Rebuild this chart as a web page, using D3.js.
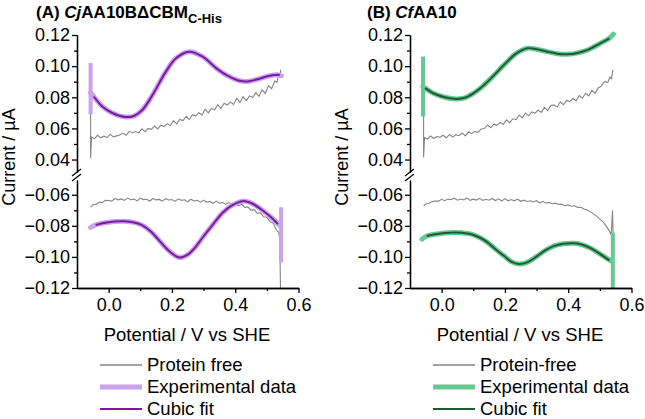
<!DOCTYPE html>
<html>
<head>
<meta charset="utf-8">
<script src="https://cdn.jsdelivr.net/npm/d3@7"></script>
<style>
  body { margin: 0; background: #fff; }
  text { font-family: "Liberation Sans", Arial, sans-serif; }
</style>
</head>
<body>
<div id="chart"></div>
<script>
// ---- data (potential V vs SHE, current uA) ----

// panel A: CjAA10B dCBM C-His
const greyTopA = [[-0.057,0.070],[-0.057,0.041],[-0.054,0.0545],[-0.045,0.0533],[-0.035,0.0556],[-0.025,0.0540],[-0.015,0.0550],[-0.005,0.0541],
  [0.005,0.0563],[0.015,0.0546],[0.025,0.0552],[0.035,0.0558],[0.045,0.0570],[0.055,0.0556],[0.065,0.0581],[0.075,0.0571],[0.085,0.0580],
  [0.095,0.0572],[0.105,0.0598],[0.115,0.0579],[0.125,0.0600],[0.135,0.0594],[0.145,0.0615],[0.155,0.0597],[0.165,0.0621],[0.175,0.0612],
  [0.185,0.0631],[0.195,0.0618],[0.205,0.0650],[0.215,0.0629],[0.225,0.0658],[0.235,0.0650],[0.245,0.0677],[0.255,0.0656],[0.265,0.0688],
  [0.275,0.0679],[0.285,0.0701],[0.295,0.0686],[0.305,0.0723],[0.315,0.0700],[0.325,0.0728],[0.335,0.0720],[0.345,0.0752],[0.355,0.0727],
  [0.365,0.0762],[0.375,0.0750],[0.385,0.0770],[0.395,0.0754],[0.405,0.0794],[0.415,0.0767],[0.425,0.0803],[0.435,0.0779],[0.445,0.0809],
  [0.455,0.0798],[0.465,0.0830],[0.475,0.0806],[0.485,0.0848],[0.495,0.0825],[0.505,0.0875],[0.515,0.0855],[0.525,0.0904],[0.532,0.0896],
  [0.538,0.0955],[0.541,0.0925],[0.544,0.0978]];
const greyBotA = [[-0.057,-0.0680],[-0.050,-0.0664],[-0.040,-0.0662],[-0.030,-0.0648],[-0.020,-0.0649],[-0.010,-0.0636],[0.000,-0.0637],
  [0.010,-0.0641],[0.020,-0.0624],[0.030,-0.0633],[0.040,-0.0627],[0.050,-0.0636],[0.060,-0.0621],[0.070,-0.0632],[0.080,-0.0628],
  [0.090,-0.0639],[0.100,-0.0622],[0.110,-0.0631],[0.120,-0.0629],[0.130,-0.0640],[0.140,-0.0624],[0.150,-0.0633],[0.160,-0.0630],
  [0.170,-0.0641],[0.180,-0.0625],[0.190,-0.0634],[0.200,-0.0631],[0.210,-0.0643],[0.220,-0.0626],[0.230,-0.0636],[0.240,-0.0632],
  [0.250,-0.0645],[0.260,-0.0629],[0.270,-0.0640],[0.280,-0.0636],[0.290,-0.0648],[0.300,-0.0634],[0.310,-0.0647],[0.320,-0.0643],
  [0.330,-0.0656],[0.340,-0.0641],[0.350,-0.0654],[0.360,-0.0650],[0.370,-0.0662],[0.380,-0.0649],[0.390,-0.0667],[0.400,-0.0653],
  [0.410,-0.0672],[0.420,-0.0661],[0.430,-0.0681],[0.440,-0.0678],[0.450,-0.0700],[0.460,-0.0696],[0.470,-0.0720],[0.480,-0.0716],
  [0.490,-0.0742],[0.500,-0.0745],[0.510,-0.0772],[0.520,-0.0782],[0.530,-0.0826],[0.537,-0.0841],[0.541,-0.0884],[0.543,-0.1200]];
const expTopA = [[-0.057,0.083],[-0.047,0.0805],[-0.02,0.0741],[0.012,0.0699],[0.054,0.0673],[0.08,0.0680],[0.107,0.0720],[0.139,0.0816],
  [0.181,0.0965],[0.213,0.1051],[0.255,0.1093],[0.297,0.1061],[0.340,0.0987],[0.371,0.0944],[0.414,0.0906],[0.44,0.0902],[0.467,0.0914],
  [0.509,0.0938],[0.530,0.0944],[0.546,0.0938]];
const spikeTopA = [-0.057, 0.069, 0.102];
const fitTopA = [[-0.047,0.0805],[-0.02,0.0741],[0.012,0.0699],[0.054,0.0673],[0.08,0.0680],[0.107,0.0720],[0.139,0.0816],[0.181,0.0965],
  [0.213,0.1051],[0.255,0.1093],[0.297,0.1061],[0.340,0.0987],[0.371,0.0944],[0.414,0.0906],[0.44,0.0902],[0.467,0.0914],[0.509,0.0938],
  [0.541,0.0944]];
const expBotA = [[-0.057,-0.0810],[-0.041,-0.0794],[-0.01,-0.0780],[0.02,-0.0772],[0.05,-0.0771],[0.08,-0.0778],[0.107,-0.0797],
  [0.135,-0.0840],[0.16,-0.0895],[0.19,-0.0960],[0.223,-0.1004],[0.25,-0.0985],[0.275,-0.0935],[0.297,-0.0875],[0.33,-0.0790],
  [0.361,-0.0714],[0.39,-0.0668],[0.424,-0.0641],[0.455,-0.0658],[0.488,-0.0703],[0.515,-0.0748],[0.540,-0.0795]];
const spikeBotA = [0.545, -0.1035, -0.068];
const fitBotA = [[-0.041,-0.0794],[-0.01,-0.0780],[0.02,-0.0772],[0.05,-0.0771],[0.08,-0.0778],[0.107,-0.0797],[0.135,-0.0840],
  [0.16,-0.0895],[0.19,-0.0960],[0.223,-0.1004],[0.25,-0.0985],[0.275,-0.0935],[0.297,-0.0875],[0.33,-0.0790],[0.361,-0.0714],
  [0.39,-0.0668],[0.424,-0.0641],[0.455,-0.0658],[0.488,-0.0703],[0.515,-0.0748],[0.535,-0.0789]];

// panel B: CfAA10
const greyTopB = [[-0.057,0.068],[-0.057,0.0413],[-0.054,0.0541],[-0.045,0.0532],[-0.035,0.0551],[-0.025,0.0535],[-0.015,0.0547],
  [-0.005,0.0543],[0.005,0.0556],[0.015,0.0539],[0.025,0.0561],[0.035,0.0544],[0.045,0.0560],[0.055,0.0553],[0.065,0.0570],[0.075,0.0552],
  [0.085,0.0578],[0.095,0.0566],[0.105,0.0581],[0.115,0.0574],[0.125,0.0596],[0.135,0.0599],[0.145,0.0622],[0.155,0.0605],[0.165,0.0627],
  [0.175,0.0620],[0.185,0.0639],[0.195,0.0625],[0.205,0.0655],[0.215,0.0637],[0.225,0.0662],[0.235,0.0656],[0.245,0.0686],[0.255,0.0668],
  [0.265,0.0699],[0.275,0.0681],[0.285,0.0706],[0.295,0.0698],[0.305,0.0718],[0.315,0.0703],[0.325,0.0735],[0.335,0.0714],[0.345,0.0747],
  [0.355,0.0751],[0.365,0.0737],[0.375,0.0771],[0.385,0.0753],[0.395,0.0780],[0.405,0.0772],[0.415,0.0792],[0.425,0.0777],[0.435,0.0811],
  [0.445,0.0794],[0.455,0.0826],[0.465,0.0809],[0.475,0.0845],[0.485,0.0827],[0.495,0.0860],[0.505,0.0873],[0.515,0.0900],[0.525,0.0896],
  [0.532,0.0930],[0.537,0.0920],[0.541,0.0976]];
const greyBotB = [[-0.057,-0.0672],[-0.050,-0.0660],[-0.040,-0.0654],[-0.030,-0.0644],[-0.020,-0.0640],[-0.010,-0.0641],[0.000,-0.0629],
  [0.010,-0.0638],[0.020,-0.0628],[0.030,-0.0632],[0.040,-0.0622],[0.050,-0.0635],[0.060,-0.0627],[0.070,-0.0633],[0.080,-0.0621],
  [0.090,-0.0636],[0.100,-0.0628],[0.110,-0.0634],[0.120,-0.0623],[0.130,-0.0636],[0.140,-0.0629],[0.150,-0.0635],[0.160,-0.0624],
  [0.170,-0.0637],[0.180,-0.0626],[0.190,-0.0640],[0.200,-0.0625],[0.210,-0.0639],[0.220,-0.0631],[0.230,-0.0639],[0.240,-0.0628],
  [0.250,-0.0642],[0.260,-0.0635],[0.270,-0.0643],[0.280,-0.0639],[0.290,-0.0646],[0.300,-0.0638],[0.310,-0.0653],[0.320,-0.0642],
  [0.330,-0.0654],[0.340,-0.0650],[0.350,-0.0658],[0.360,-0.0654],[0.370,-0.0662],[0.380,-0.0661],[0.390,-0.0670],[0.400,-0.0666],
  [0.410,-0.0674],[0.420,-0.0671],[0.430,-0.0682],[0.440,-0.0681],[0.450,-0.0692],[0.460,-0.0698],[0.470,-0.0710],[0.480,-0.0723],
  [0.490,-0.0737],[0.500,-0.0757],[0.510,-0.0774],[0.520,-0.0802],[0.528,-0.0826],[0.536,-0.0858],[0.540,-0.0700],[0.542,-0.0860]];
const expTopB = [[-0.059,0.087],[-0.052,0.0859],[-0.03,0.0830],[-0.015,0.0816],[0.01,0.0800],[0.038,0.0790],[0.07,0.0795],[0.10,0.0825],
  [0.123,0.0859],[0.16,0.0930],[0.197,0.1008],[0.235,0.1080],[0.271,0.1115],[0.30,0.1108],[0.334,0.1093],[0.365,0.1080],[0.398,0.1076],
  [0.43,0.1085],[0.461,0.1104],[0.50,0.1145],[0.530,0.1179],[0.543,0.1205]];
const spikeTopB = [-0.059, 0.0677, 0.1061];
const fitTopB = [[-0.052,0.0859],[-0.03,0.0830],[-0.015,0.0816],[0.01,0.0800],[0.038,0.0790],[0.07,0.0795],[0.10,0.0825],[0.123,0.0859],
  [0.16,0.0930],[0.197,0.1008],[0.235,0.1080],[0.271,0.1115],[0.30,0.1108],[0.334,0.1093],[0.365,0.1080],[0.398,0.1076],[0.43,0.1085],
  [0.461,0.1104],[0.50,0.1145],[0.530,0.1179]];
const expBotB = [[-0.062,-0.0886],[-0.047,-0.0865],[-0.015,-0.0852],[0.01,-0.0846],[0.038,-0.0843],[0.065,-0.0845],[0.091,-0.0852],
  [0.12,-0.0875],[0.144,-0.0905],[0.17,-0.0950],[0.197,-0.0993],[0.22,-0.1030],[0.244,-0.1046],[0.27,-0.1035],[0.303,-0.0993],
  [0.33,-0.0955],[0.356,-0.0929],[0.385,-0.0915],[0.419,-0.0912],[0.445,-0.0922],[0.472,-0.0945],[0.50,-0.0980],[0.535,-0.1025]];
const spikeBotB = [0.541, -0.1200, -0.0843];
const fitBotB = [[-0.047,-0.0865],[-0.015,-0.0852],[0.01,-0.0846],[0.038,-0.0843],[0.065,-0.0845],[0.091,-0.0852],[0.12,-0.0875],
  [0.144,-0.0905],[0.17,-0.0950],[0.197,-0.0993],[0.22,-0.1030],[0.244,-0.1046],[0.27,-0.1035],[0.303,-0.0993],[0.33,-0.0955],
  [0.356,-0.0929],[0.385,-0.0915],[0.419,-0.0912],[0.445,-0.0922],[0.472,-0.0945],[0.50,-0.0980],[0.530,-0.1022]];

const xMajor = [0.0, 0.2, 0.4, 0.6];
const xMinor = [0.1, 0.3, 0.5];
const yTopMajor = [0.04, 0.06, 0.08, 0.10, 0.12];
const yTopMinor = [0.05, 0.07, 0.09, 0.11];
const yBotMajor = [-0.12, -0.10, -0.08, -0.06];
const yBotMinor = [-0.11, -0.09, -0.07];

// ---- layout ----
let W = 645, H = 419;
let svg = d3.select('#chart').append('svg')
  .attr('width', W).attr('height', H);

function drawPanel(p) {
  let x = d3.scaleLinear().domain([-0.1, 0.6]).range([p.left, p.left + 221.5]);
  let yTop = d3.scaleLinear().domain([0.032, 0.12]).range([172, 35]);
  let yBot = d3.scaleLinear().domain([-0.12, -0.0505]).range([288, 180]);
  let g = svg.append('g');

  let lineTop = d3.line().x(d => x(d[0])).y(d => yTop(d[1]));
  let lineBot = d3.line().x(d => x(d[0])).y(d => yBot(d[1]));
  let smoothTop = d3.line().curve(d3.curveCatmullRom.alpha(0.5)).x(d => x(d[0])).y(d => yTop(d[1]));
  let smoothBot = d3.line().curve(d3.curveCatmullRom.alpha(0.5)).x(d => x(d[0])).y(d => yBot(d[1]));

  // protein free
  g.append('path').attr('d', lineTop(p.greyTop)).attr('fill', 'none').attr('stroke', '#858585').attr('stroke-width', 1.1);
  g.append('path').attr('d', lineBot(p.greyBot)).attr('fill', 'none').attr('stroke', '#858585').attr('stroke-width', 1.1);

  // experimental
  [[p.expTop, smoothTop], [p.expBot, smoothBot]].forEach(([d, fn]) => {
    g.append('path').attr('d', fn(d)).attr('fill', 'none')
      .attr('stroke', p.light).attr('stroke-width', 5).attr('stroke-linecap', 'round');
  });
  g.append('line').attr('x1', x(p.spikeTop[0])).attr('x2', x(p.spikeTop[0]))
    .attr('y1', yTop(p.spikeTop[1])).attr('y2', yTop(p.spikeTop[2]))
    .attr('stroke', p.light).attr('stroke-width', 4);
  g.append('line').attr('x1', x(p.spikeBot[0])).attr('x2', x(p.spikeBot[0]))
    .attr('y1', yBot(p.spikeBot[1])).attr('y2', yBot(p.spikeBot[2]))
    .attr('stroke', p.light).attr('stroke-width', 4);

  // cubic fit
  g.append('path').attr('d', smoothTop(p.fitTop)).attr('fill', 'none').attr('stroke', p.dark).attr('stroke-width', 2);
  g.append('path').attr('d', smoothBot(p.fitBot)).attr('fill', 'none').attr('stroke', p.dark).attr('stroke-width', 2);

  // axes
  let fs = '18px';
  function styleAxis(a) {
    a.selectAll('path, line').attr('stroke', '#000').attr('stroke-width', 1.3);
    a.selectAll('text').attr('fill', '#000').style('font-size', fs)
      .style('font-family', '"Liberation Sans", Arial, sans-serif');
  }
  let ax;
  ax = g.append('g').attr('transform', 'translate(' + p.left + ',0)')
    .call(d3.axisLeft(yTop).tickValues(yTopMajor).tickSize(5).tickSizeOuter(0).tickPadding(2).tickFormat(d3.format('.2f')));
  styleAxis(ax);
  ax = g.append('g').attr('transform', 'translate(' + p.left + ',0)')
    .call(d3.axisLeft(yTop).tickValues(yTopMinor).tickSize(3).tickSizeOuter(0).tickFormat(''));
  styleAxis(ax);
  ax = g.append('g').attr('transform', 'translate(' + p.left + ',0)')
    .call(d3.axisLeft(yBot).tickValues(yBotMajor).tickSize(5).tickSizeOuter(0).tickPadding(2).tickFormat(d3.format('.2f')));
  styleAxis(ax);
  ax = g.append('g').attr('transform', 'translate(' + p.left + ',0)')
    .call(d3.axisLeft(yBot).tickValues(yBotMinor).tickSize(3).tickSizeOuter(0).tickFormat(''));
  styleAxis(ax);
  ax = g.append('g').attr('transform', 'translate(0,288)')
    .call(d3.axisBottom(x).tickValues(xMajor).tickSize(5).tickSizeOuter(0).tickPadding(5).tickFormat(d3.format('.1f')));
  styleAxis(ax);
  ax = g.append('g').attr('transform', 'translate(0,288)')
    .call(d3.axisBottom(x).tickValues(xMinor).tickSize(3).tickSizeOuter(0).tickFormat(''));
  styleAxis(ax);

  // axis break marks
  [0, 5].forEach(o => {
    g.append('line').attr('x1', p.left - 5).attr('y1', 176 + o).attr('x2', p.left + 4).attr('y2', 169 + o)
      .attr('stroke', '#000').attr('stroke-width', 1.2);
  });

  // titles
  let t = g.append('text').attr('x', p.titleX).attr('y', 18).style('font-size', '17px').style('font-weight', 'bold');
  p.title.forEach(s => {
    let ts = t.append('tspan').text(s.t);
    if (s.i) ts.style('font-style', 'italic');
    if (s.sub) ts.attr('dy', 5).style('font-size', '13px');
  });

  g.append('text')
    .attr('transform', 'translate(' + (p.left - 62) + ',157) rotate(-90)')
    .attr('text-anchor', 'middle').style('font-size', '18px')
    .text('Current / µA');

  g.append('text')
    .attr('x', p.left + 110).attr('y', 341)
    .attr('text-anchor', 'middle').style('font-size', '18.5px')
    .text('Potential / V vs SHE');

  // legend
  let leg = [
    {label: p.greyLabel, color: '#858585', w: 1.3},
    {label: 'Experimental data', color: p.light, w: 5},
    {label: 'Cubic fit', color: p.dark, w: 2}
  ];
  leg.forEach((l, i) => {
    let ly = 365 + i * 22;
    g.append('line').attr('x1', p.left + 23).attr('x2', p.left + 65).attr('y1', ly).attr('y2', ly)
      .attr('stroke', l.color).attr('stroke-width', l.w);
    g.append('text').attr('x', p.left + 70).attr('y', ly + 6).style('font-size', '18.5px').text(l.label);
  });
}

drawPanel({
  left: 77, titleX: 36,
  title: [{t: '(A) '}, {t: 'Cj', i: true}, {t: 'AA10BΔCBM'}, {t: 'C-His', sub: true}],
  greyTop: greyTopA, greyBot: greyBotA, expTop: expTopA, expBot: expBotA,
  spikeTop: spikeTopA, spikeBot: spikeBotA, fitTop: fitTopA, fitBot: fitBotA,
  light: '#c9a2ec', dark: '#7a1aa0', greyLabel: 'Protein free'
});
drawPanel({
  left: 410, titleX: 367,
  title: [{t: '(B) '}, {t: 'Cf', i: true}, {t: 'AA10'}],
  greyTop: greyTopB, greyBot: greyBotB, expTop: expTopB, expBot: expBotB,
  spikeTop: spikeTopB, spikeBot: spikeBotB, fitTop: fitTopB, fitBot: fitBotB,
  light: '#66c892', dark: '#1f5a38', greyLabel: 'Protein-free'
});
</script>
</body>
</html>
